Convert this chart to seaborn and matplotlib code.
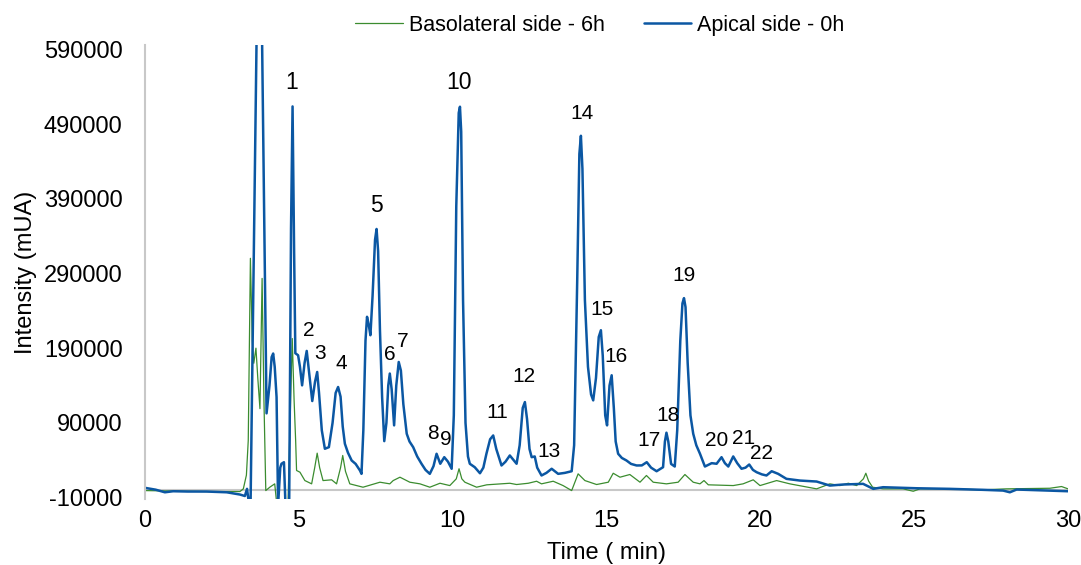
import pandas as pd
import numpy as np
import matplotlib
matplotlib.use('Agg')
import matplotlib.pyplot as plt
import seaborn as sns

# apical side - 0h (blue)
apical_time = [0.0, 0.35, 0.65, 0.92, 1.4, 2.0, 2.66, 3.09, 3.25, 3.32, 3.39, 3.435, 3.63, 3.72, 3.81, 3.955,
               4.05, 4.12, 4.17, 4.22, 4.28, 4.33, 4.40, 4.44, 4.52, 4.57, 4.69, 4.75, 4.80, 4.85, 4.89,
               4.98, 5.04, 5.11, 5.19, 5.26, 5.33, 5.44, 5.53, 5.60, 5.66, 5.75, 5.85, 5.98, 6.10, 6.20,
               6.28, 6.36, 6.43, 6.50, 6.60, 6.72, 6.85, 6.99, 7.04, 7.10, 7.17, 7.22, 7.28, 7.33, 7.40,
               7.48, 7.53, 7.58, 7.64, 7.71, 7.78, 7.85, 7.91, 7.96, 8.02, 8.10, 8.17, 8.25, 8.32, 8.40,
               8.51, 8.60, 8.72, 8.85, 8.99, 9.12, 9.26, 9.38, 9.48, 9.60, 9.73, 9.85, 9.97, 10.04, 10.12,
               10.20, 10.24, 10.28, 10.34, 10.42, 10.50, 10.56, 10.72, 10.89, 11.00, 11.10, 11.22, 11.32,
               11.42, 11.59, 11.72, 11.86, 12.08, 12.18, 12.28, 12.35, 12.42, 12.50, 12.57, 12.67, 12.75,
               12.89, 13.05, 13.22, 13.43, 13.65, 13.87, 13.95, 14.05, 14.12, 14.17, 14.22, 14.30, 14.40,
               14.50, 14.57, 14.66, 14.75, 14.82, 14.88, 14.96, 15.02, 15.10, 15.17, 15.24, 15.30, 15.38,
               15.50, 15.65, 15.80, 15.98, 16.15, 16.31, 16.45, 16.63, 16.84, 16.90, 16.95, 17.01, 17.10,
               17.22, 17.30, 17.40, 17.47, 17.52, 17.57, 17.64, 17.73, 17.82, 17.92, 18.04, 18.20, 18.42,
               18.58, 18.74, 18.85, 18.96, 19.12, 19.25, 19.39, 19.52, 19.64, 19.76, 19.88, 20.05, 20.20,
               20.37, 20.58, 20.85, 21.29, 21.83, 22.26, 22.69, 23.34, 23.67, 23.99, 25.08, 26.16, 27.24,
               27.89, 28.11, 28.33, 29.41, 30.0]
apical_int = [3000, 500, -3000, -1600, -2000, -2000, -3000, -6000, -8000, 1600, -20000, -20000, 600000, 900000, 600000, 102700,
              140000, 178000, 182800, 165000, 124500, -20000, 30000, 35200, 37300, -20000, -20000, 350000, 513700, 320000, 183200,
              180500, 165000, 140200, 170000, 186300, 160000, 119200, 145000, 158100, 130000, 80000, 55300, 57400, 90000, 130000,
              138000, 125000, 85000, 62000, 50000, 39600, 35000, 26200, 21700, 80000, 200000, 232000, 220000, 207300, 260000,
              335000, 349600, 320000, 214000, 124500, 65500, 90000, 140000, 156000, 135000, 86600, 140000, 171500, 160000, 115000,
              75400, 65000, 57400, 45000, 35200, 27000, 21700, 32000, 48600, 35200, 44000, 38000, 28500, 100000, 380000,
              505000, 513300, 480000, 254300, 90000, 45000, 35200, 30600, 22500, 30000, 48600, 68000, 73100,
              55000, 32900, 38000, 46300, 35200, 60000, 110000, 117800, 95000, 55000, 44000, 45000, 30000,
              19500, 23000, 28500, 21700, 23000, 25200, 60000, 280000, 450000, 474400, 430000, 254300, 165000,
              128000, 120100, 150000, 205000, 214000, 180000, 100000, 86600, 140000, 153700, 110000, 65000, 48600,
              43000, 39600, 35000, 32900, 33000, 37300, 30000, 25200, 30600, 65000, 76800, 65000, 35000,
              31500, 80000, 200000, 250000, 257000, 245000, 170000, 100000, 75400, 60000, 48600, 31500, 36000,
              35200, 44000, 36000, 31500, 45000, 36000, 28500, 30000, 34200, 27000, 23900, 21000, 19500,
              25200, 21700, 15000, 12700, 11400, 6000, 7400, 8300, 1600, 3800, 2400, 1600, 300,
              -700, -3000, 700, -700, -1600]

# basolateral side - 6h (green)
baso_time = [0.0, 2.0, 3.09, 3.20, 3.30, 3.36, 3.43, 3.49, 3.54, 3.61, 3.67, 3.74, 3.81, 3.87, 3.93, 4.06,
             4.22, 4.29, 4.65, 4.79, 4.85, 4.90, 4.93, 5.04, 5.20, 5.42, 5.52, 5.60, 5.68, 5.79, 6.07,
             6.23, 6.36, 6.43, 6.52, 6.66, 7.09, 7.64, 7.96, 8.07, 8.29, 8.61, 8.94, 9.26, 9.59, 9.91,
             10.12, 10.21, 10.30, 10.40, 10.78, 11.11, 11.86, 12.08, 12.46, 12.73, 12.89, 13.27, 13.59,
             13.87, 14.08, 14.30, 14.68, 15.06, 15.22, 15.44, 15.76, 16.09, 16.30, 16.52, 16.95, 17.33,
             17.55, 17.82, 18.04, 18.17, 18.31, 19.12, 19.44, 19.77, 19.99, 20.53, 20.96, 21.83, 22.26,
             22.59, 22.86, 23.13, 23.35, 23.43, 23.52, 23.65, 23.99, 24.64, 24.97, 25.19, 26.16, 27.24,
             28.0, 29.41, 29.79, 30.0]
baso_int = [-700, -2000, -2000, 1600, 20000, 66400, 310300, 200000, 169800, 190000, 150000, 109000, 283400, 120000, -700, 3800,
            8300, -20000, -20000, 202900, 120000, 66400, 26200, 23900, 12700, 8300, 30000, 49400, 30000, 12700, 13700,
            8300, 30000, 46300, 25000, 8300, 3800, 10500, 8300, 12700, 17200, 10500, 8300, 3800, 9100, 6000,
            15000, 28500, 15000, 10500, 3800, 7000, 9100, 7400, 9100, 11800, 8300, 11800, 6000,
            -700, 21700, 12700, 7400, 10500, 22500, 17200, 20800, 10500, 19500, 10500, 8300, 10500,
            20800, 10500, 8300, 12700, 7000, 6000, 8300, 13700, 6000, 12700, 8300, 1600, 8300,
            6000, 9100, 6000, 15000, 22500, 12000, 3800, 1600, 1600, -1600, 1600, 1600, 300,
            1600, 2400, 4700, 1600]

# peak numbers and where they sit
peak_labels = [str(i) for i in range(1, 23)]
peak_x = [4.78, 5.33, 5.69, 6.40, 7.54, 7.96, 8.38, 9.36, 9.78, 10.20, 11.44, 12.32, 13.13, 14.20,
          14.85, 15.31, 16.38, 16.99, 17.52, 18.59, 19.47, 20.05]
peak_y = [545500, 214000, 183200, 169800, 380500, 181800, 199300, 75800, 67800, 545500, 104000, 152300,
          51700, 504000, 242200, 179200, 66400, 100000, 287900, 66400, 69100, 49000]
big_peaks = ['1', '5', '10']

sns.set_style('white')
plt.rcParams['font.family'] = ['Liberation Sans', 'DejaVu Sans']
plt.rcParams['axes.unicode_minus'] = False
plt.rcParams['text.color'] = 'black'
plt.rcParams['axes.labelcolor'] = 'black'
plt.rcParams['xtick.color'] = 'black'
plt.rcParams['ytick.color'] = 'black'

blue = '#0b57a3'
green = '#3b8c2f'

df_b = pd.DataFrame({'t': baso_time, 'v': baso_int})
df_a = pd.DataFrame({'t': apical_time, 'v': apical_int})

fig = plt.figure(figsize=(10.81, 5.65), dpi=100)
ax = fig.add_axes([0.134, 0.1168, 0.854, 0.8036])

sns.lineplot(data=df_b, x='t', y='v', ax=ax, color=green, linewidth=0.9,
             estimator=None, sort=False, label='Basolateral side - 6h')
sns.lineplot(data=df_a, x='t', y='v', ax=ax, color=blue, linewidth=1.8,
             estimator=None, sort=False, label='Apical side - 0h')
for ln in ax.lines:
    ln.set_solid_joinstyle('round')

ax.axhline(0, color='#c8c8c8', linewidth=1.5, zorder=0)

for lab, x, y in zip(peak_labels, peak_x, peak_y):
    fs = 16.5 if lab in big_peaks else 15
    ax.text(x, y, lab, ha='center', va='center', fontsize=fs, color='black')

ax.set_xlim(0, 30)
ax.set_ylim(-12000, 596000)
ax.set_xticks(np.arange(0, 31, 5))
ax.set_yticks(np.arange(-10000, 590001, 100000))
ax.tick_params(axis='y', length=0, pad=16, labelsize=17)
ax.tick_params(axis='x', length=0, pad=8, labelsize=17)

for s in ['top', 'right', 'bottom']:
    ax.spines[s].set_visible(False)
ax.spines['left'].set_color('#c8c8c8')
ax.spines['left'].set_linewidth(1.5)

ax.set_xlabel('Time ( min)', fontsize=17, labelpad=7)
ax.set_ylabel('Intensity (mUA)', fontsize=17, labelpad=5)

ax.get_legend().remove()
h, l = ax.get_legend_handles_labels()
fig.legend(h, l, loc='center', bbox_to_anchor=(0.555, 0.955), ncol=2, frameon=False,
           fontsize=15.5, handlelength=2.2, columnspacing=1.8, handletextpad=0.3)

fig.savefig('out.png', dpi=100)
